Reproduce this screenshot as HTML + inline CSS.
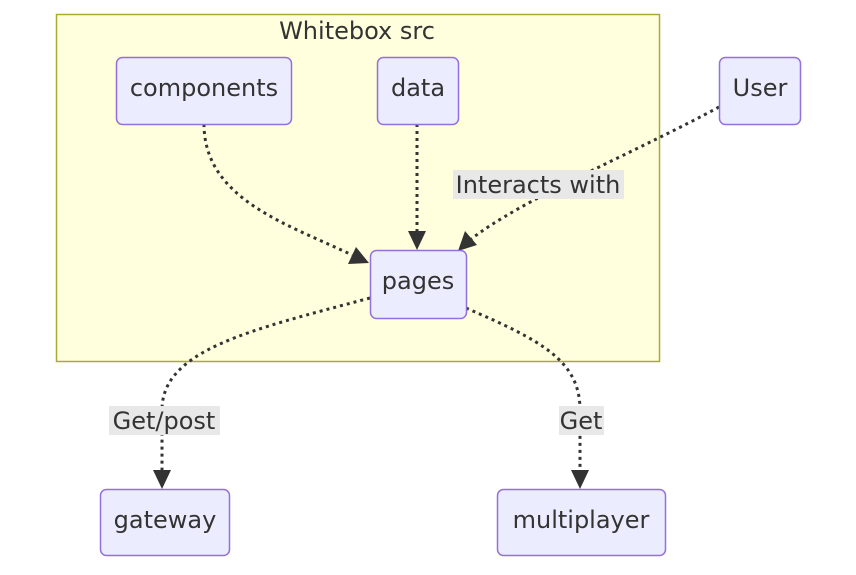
<!DOCTYPE html>
<html><head><meta charset="utf-8"><style>
html,body{margin:0;padding:0;background:#fff;}
svg text{font-family:"DejaVu Sans","Liberation Sans",sans-serif;fill:#333;}
</style></head><body>
<svg width="856" height="570" viewBox="0 0 856 570" xmlns="http://www.w3.org/2000/svg">
<rect x="56.5" y="14.5" width="603" height="347" fill="#ffffde" stroke="#aaaa33" stroke-width="1.5"/>
<text x="357" y="39" font-size="24" text-anchor="middle">Whitebox src</text>

<g fill="none" stroke="#333" stroke-width="3" stroke-dasharray="3,4">
<path d="M204,124 C204,200 290,225 352,255"/>
<path d="M417,124 L417,234"/>
<path d="M719,107 C640,150 520,200 470,240"/>
<path d="M370,298 C250,330 162,350 162,410 L162,472"/>
<path d="M466,308 C540,340 580,360 580,410 L580,472"/>
</g>
<g fill="#333">
<path d="M417,250 L408,231 L426,231 z"/>
<path d="M162,489 L153,470 L171,470 z"/>
<path d="M580,489 L571,470 L589,470 z"/>
<path d="M369,263 L348,264 L356,247 z"/>
<path d="M458,251 L465,231 L477,245 z"/>
</g>

<rect x="453" y="170" width="171" height="29" fill="#e8e8e8"/>
<text x="538" y="193" font-size="24" text-anchor="middle">Interacts with</text>
<rect x="109" y="406" width="111" height="29" fill="#e8e8e8"/>
<text x="164" y="429" font-size="24" text-anchor="middle">Get/post</text>
<rect x="559" y="406" width="45" height="29" fill="#e8e8e8"/>
<text x="581" y="429" font-size="24" text-anchor="middle">Get</text>

<g fill="#ECECFF" stroke="#9370DB" stroke-width="1.5">
<rect x="116.5" y="57.5" width="175" height="67" rx="6"/>
<rect x="377.5" y="57.5" width="81" height="67" rx="6"/>
<rect x="719.5" y="57.5" width="81" height="67" rx="6"/>
<rect x="370.5" y="250.5" width="96" height="68" rx="6"/>
<rect x="100.5" y="489.5" width="129" height="66" rx="6"/>
<rect x="497.5" y="489.5" width="168" height="66" rx="6"/>
</g>
<g font-size="24" text-anchor="middle">
<text x="204" y="96">components</text>
<text x="418" y="96">data</text>
<text x="760" y="96">User</text>
<text x="418" y="289">pages</text>
<text x="165" y="528">gateway</text>
<text x="581" y="528">multiplayer</text>
</g>
</svg>
</body></html>
